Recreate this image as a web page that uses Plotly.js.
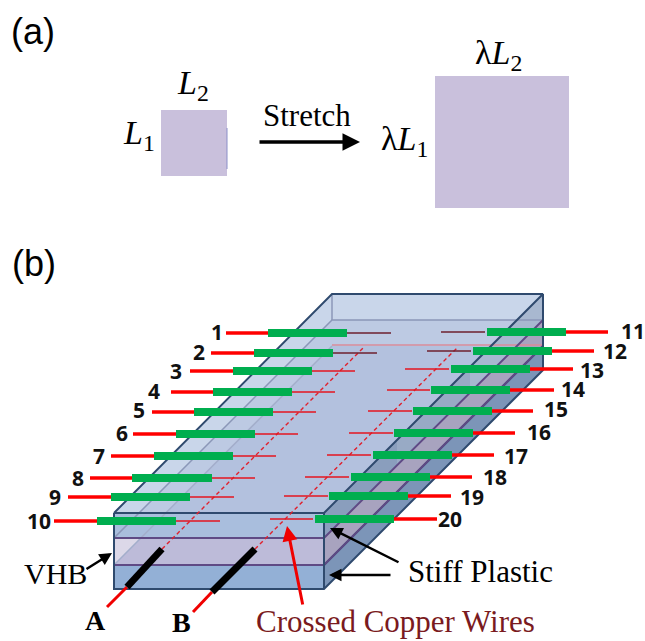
<!DOCTYPE html>
<html><head><meta charset="utf-8">
<script src="https://cdn.plot.ly/plotly-3.0.1.min.js"></script>
<style>html,body{margin:0;padding:0;background:#fff}</style></head>
<body><div id="chart" style="width:645px;height:641px"></div>
<script>
const wireLabels = ['1','2','3','4','5','6','7','8','9','10','11','12','13','14','15','16','17','18','19','20'];
const wireY      = [333,353,371,392,412,434,456,478,497,521, 332,351,369,390,411,433,455,477,496,519];
const leadOuter  = [226,211,190,171,152,133,111,90,68,54, 608,594,573,554,533,515,494,472,451,437];
const greenOuter = [268,254,233,213,194,176,154,132,111,97, 566,552,530,510,492,473,452,430,408,394];
const greenInner = [347,333,312,292,273,255,233,212,190,176, 487,473,451,431,413,394,373,351,329,315];
const thinEnd    = [391,377,355,335,316,298,276,255,234,220, 441,427,405,387,368,349,327,305,284,270];
const thinStart  = [347,333,312,292,273,255,233,212,190,176, 485,471,449,430,412,393,371,349,328,313];
const labelX     = [217,199,176,154,139,122,99,78,55,39, 633,615,592,573,556,539,516,495,472,450];
const labelY     = [332,352,371,391,410,433,456,478,497,521, 331,351,370,389,409,432,456,477,497,519];

const smallSquareX = [161,227,227,161,161], smallSquareY = [110,110,176,176,110];
const smallEdgeX = [227,227], smallEdgeY = [128,169];
const largeSquareX = [435,569,569,435,435], largeSquareY = [76,76,208,208,76];

const topFaceX = [114,324,543,332,114], topFaceY = [513,513,294,294,513];
const midFaceX = [114,332,543,324,114], midFaceY = [538,320,320,538,538];
const lowFaceX = [114,332,543,324,114], lowFaceY = [565,346,346,565,565];
const frontPlateTopX = [114,324,324,114,114], frontPlateTopY = [513,513,538,538,513];
const frontVhbX = [114,324,324,114,114], frontVhbY = [538,538,565,565,538];
const frontPaleX = [114,141,114,114], frontPaleY = [538,538,565,538];
const frontPlateLowX = [114,324,324,114,114], frontPlateLowY = [565,565,589,589,565];
const sideTopNearX = [324,397,397,324,324], sideTopNearY = [513,440,465,538,513];
const sideTopMidX = [397,470,470,397,397], sideTopMidY = [440,367,392,465,440];
const sideTopBackX = [470,543,543,470,470], sideTopBackY = [367,294,320,392,367];
const sideVhbX = [324,543,543,324,324], sideVhbY = [538,320,346,565,538];
const sideLowX = [324,543,543,324,324], sideLowY = [565,346,370,589,565];

const edgeX = [114,332,543,null,114,324,543,543,324,114,114,null,324,324];
const edgeY = [513,294,294,null,513,513,294,370,589,589,513,null,513,589];
const plateSeamX = [114,324,null,114,324,543], plateSeamY = [538,538,null,565,565,346];
const vhbSeamX = [114,324,543], vhbSeamY = [538,538,320];
const faintX = [114,332,543,null,332,332], faintY = [538,320,320,null,294,320];
const faint2X = [114,332], faint2Y = [565,346];
const backRedX = [332,543,543], backRedY = [345,345,320];

const wireAX = [162,363], wireAY = [549,348];
const wireBX = [255,457], wireBY = [549,348];
const sleeveAX = [127,162], sleeveAY = [587,549];
const sleeveBX = [212,255], sleeveBY = [592,549];
const leadAX = [107,127], leadAY = [607,587];
const leadBX = [193,212], leadBY = [612,592];

function poly(x,y,fill){return {x,y,type:'scatter',mode:'lines',fill:'toself',fillcolor:fill,line:{width:0},hoverinfo:'skip'};}
function line(x,y,color,width,dash){return {x,y,type:'scatter',mode:'lines',line:{color,width,dash:dash||'solid'},hoverinfo:'skip'};}
function segs(a,b,idx){const xs=[],ys=[];idx.forEach(i=>{xs.push(a[i],b[i],null);ys.push(wireY[i],wireY[i],null);});return [xs,ys];}
const all = wireLabels.map((_,i)=>i);
const darkThin=[0,1,10,11], redThin=all.filter(i=>!darkThin.includes(i));

const [rx,ry]=segs(leadOuter,greenOuter,all);
const [gx,gy]=segs(greenOuter,greenInner,all);
const [t1x,t1y]=segs(thinStart,thinEnd,darkThin);
const [t2x,t2y]=segs(thinStart,thinEnd,redThin);

const data=[
 poly(smallSquareX,smallSquareY,'#c9c0dc'),
 line(smallEdgeX,smallEdgeY,'#8a8fc8',1),
 poly(largeSquareX,largeSquareY,'#c9c0dc'),
 poly(topFaceX,topFaceY,'#c9d6ea'),
 poly(midFaceX,midFaceY,'#bdcae3'),
 poly(lowFaceX,lowFaceY,'#b3c1de'),
 poly(sideTopNearX,sideTopNearY,'#8a9ebd'),
 poly(sideTopMidX,sideTopMidY,'#98aac5'),
 poly(sideTopBackX,sideTopBackY,'#a8b8d0'),
 poly(sideVhbX,sideVhbY,'#a8a3bf'),
 poly(sideLowX,sideLowY,'#7c95b8'),
 line(backRedX,backRedY,'#d98c9a',1.5),
 poly(frontPlateTopX,frontPlateTopY,'#a9bedd'),
 poly(frontVhbX,frontVhbY,'#bdbbd9'),
 poly(frontPaleX,frontPaleY,'#dcd8e8'),
 poly(frontPlateLowX,frontPlateLowY,'#93b0d6'),
 line(faintX,faintY,'#8b97b8',1.5),
 line(faint2X,faint2Y,'#a3aecb',1.5),
 line(plateSeamX,plateSeamY,'#2f4a6e',2),
 line(vhbSeamX,vhbSeamY,'#5f4a85',2),
 line(plateSeamX.slice(3),plateSeamY.slice(3),'#5f4a85',2),
 line(edgeX,edgeY,'#2f4a6e',2),
 line(wireAX,wireAY,'#e0202c',1.4,'4px,3px'),
 line(wireBX,wireBY,'#e0202c',1.4,'4px,3px'),
 line(leadAX,leadAY,'#f00000',3),
 line(leadBX,leadBY,'#f00000',3),
 line(sleeveAX,sleeveAY,'#000000',7),
 line(sleeveBX,sleeveBY,'#000000',7),
 line(t1x,t1y,'#6e1f2e',1.5),
 line(t2x,t2y,'#e4141f',1.5),
 line(rx,ry,'#ff0000',3.5),
 line(gx,gy,'#00ae4f',8)
];

const serif='"Liberation Serif",serif', sans='"Liberation Sans",Arial,sans-serif';
function txt(x,y,text,size,family,color){return {x,y,text,xref:'x',yref:'y',showarrow:false,xanchor:'center',yanchor:'middle',font:{size,family,color:color||'#000'}};}
function arrow(x1,y1,x0,y0,color,width,size){return {x:x1,y:y1,ax:x0,ay:y0,xref:'x',yref:'y',axref:'x',ayref:'y',text:'',showarrow:true,arrowhead:2,arrowsize:size||1,arrowwidth:width,arrowcolor:color};}

const annotations=[
 txt(33,31,'(a)',36,sans),
 txt(34,263,'(b)',36,sans),
 txt(193,85,'<i>L</i><sub>2</sub>',34,serif),
 txt(139,135,'<i>L</i><sub>1</sub>',34,serif),
 txt(307,115,'Stretch',31,serif),
 txt(404,141,'λ<i>L</i><sub>1</sub>',34,serif),
 txt(498,55,'λ<i>L</i><sub>2</sub>',34,serif),
 txt(55,573,'VHB',30,serif),
 txt(95,620,'<b>A</b>',28,serif),
 txt(181,622,'<b>B</b>',28,serif),
 txt(480,571,'Stiff Plastic',31,serif),
 txt(395,621,'Crossed Copper Wires',31,serif,'#7a1a20'),
 arrow(360,142,258,142,'#000',3.5,1),
 arrow(112,553,85,570,'#000',2.5,1),
 arrow(330,528,400,563,'#000',2.5,1),
 arrow(329,575,392,575,'#000',2.5,1),
 arrow(287,526,303,606,'#f00000',3,1)
].concat(wireLabels.map((t,i)=>txt(labelX[i],labelY[i],'<b>'+t+'</b>',21,'"Open Sans",sans-serif','#111')));

Plotly.newPlot('chart',data,{
 width:645,height:641,showlegend:false,
 margin:{l:0,r:0,t:0,b:0,pad:0},
 paper_bgcolor:'#fff',plot_bgcolor:'#fff',
 xaxis:{range:[0,645],visible:false,fixedrange:true},
 yaxis:{range:[641,0],visible:false,fixedrange:true},
 annotations
},{displayModeBar:false,staticPlot:true});
</script></body></html>
